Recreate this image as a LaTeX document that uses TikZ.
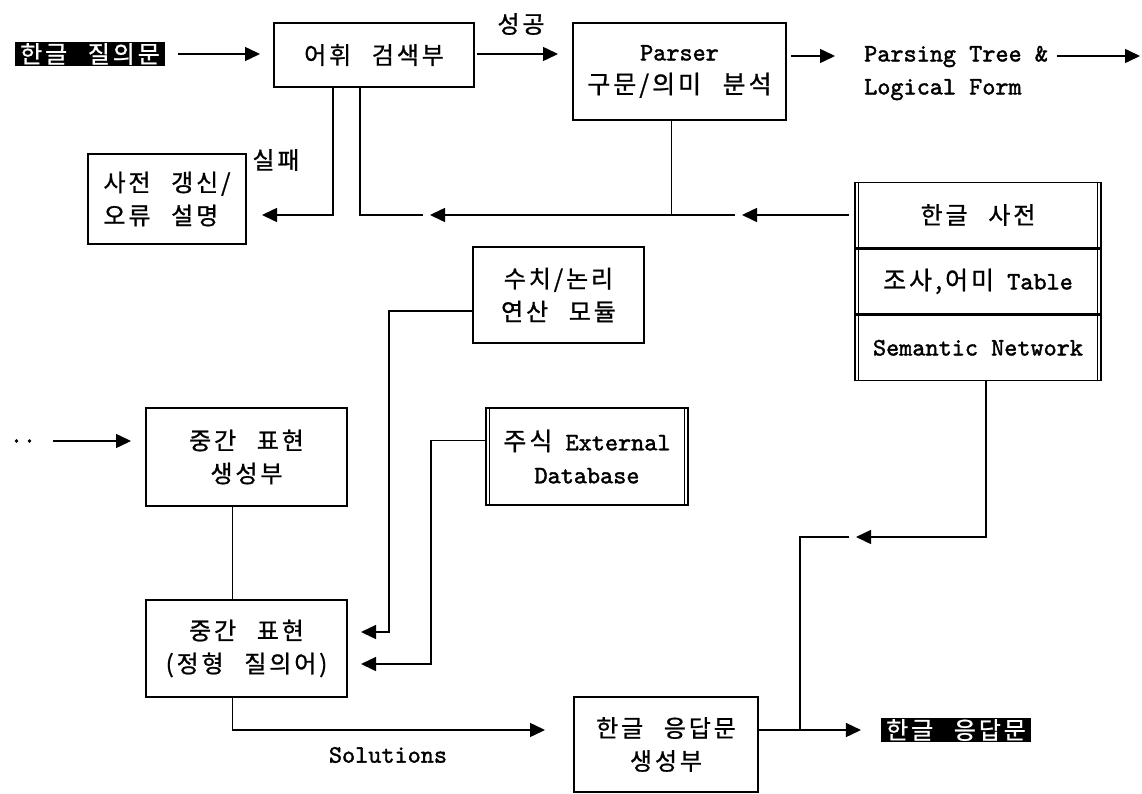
\documentclass[tikz,border=0pt]{standalone}
\usepackage{fontspec}
\setmonofont{lmmono10-regular.otf}[FakeBold=1.6]
\newfontfamily\kr[LetterSpace=12,WordSpace=2.5,FakeBold=0.9]{Noto Sans CJK KR}
\usetikzlibrary{arrows.meta}
\usetikzlibrary{calc,positioning}

\begin{document}
\begin{tikzpicture}[x=1pt,y=-1pt,
        font=\ttfamily\fontsize{25}{33}\selectfont,
        hangul/.style={font=\kr\fontsize{24}{33}\selectfont},
        box/.style={draw,line width=2pt,align=center,inner sep=0pt},
        dpart/.style={draw,line width=1.4pt,minimum width=246pt,minimum height=65pt,inner sep=0pt},
        con/.style={line width=1.5pt},
        arr/.style={con,-{Triangle[length=15pt,width=14pt]}},
        inv/.style={fill=black,text=white,inner xsep=5pt,inner ysep=1pt}]
        \useasboundingbox (0,0) rectangle (1142,794);

        % top row
        \node [inv,hangul] (q) at (90,54) {한글 질의문};
        \node [box,hangul,minimum width=200pt,minimum height=64pt] (lex) at (374,55) {어휘 검색부};
        \node [box,minimum width=213pt,minimum height=97pt] (parser) at (679.5,71.5) {Parser\\{\kr 구문/의미 분석}};
        \node [anchor=west,align=left,inner sep=0pt] (ptree) at (864,73) {Parsing Tree \&\\Logical Form};
        \coordinate (pend) at (1140,56);
        \node [hangul] (ok) at (521,24) {성공};

        \draw [arr,shorten <=13pt,shorten >=13pt] (q.east) -- (q -| lex.west);
        \draw [arr,shorten <=2pt,shorten >=14pt] (lex.east |- q) -- (parser.west |- q);
        \draw [arr,shorten <=4pt,shorten >=29pt] (parser.east |- pend) -- (ptree.west |- pend);
        \draw [arr,shorten <=9pt] (ptree.east |- pend) -- (pend);

        % failure branch and dictionary
        \node [box,hangul,align=left,minimum width=158pt,minimum height=90pt] (fail) at (167,199) {사전 갱신/\\오류 설명};
        \node [hangul] (ng) at (276,160) {실패};
        \draw [arr,shorten >=15pt] ([xshift=-41pt]lex.south) |- ([yshift=-16pt]fail.east);

        \node [dpart,hangul] (dict1) at (978,215) {한글 사전};
        \node [dpart,below=0pt of dict1] (dict2) {{\kr 조사,어미} Table};
        \node [dpart,below=0pt of dict2] (dict3) {Semantic Network};
        \draw [line width=1.4pt] ([xshift=4pt]dict1.north west) -- ([xshift=4pt]dict3.south west);
        \draw [line width=1.4pt] ([xshift=-4pt]dict1.north east) -- ([xshift=-4pt]dict3.south east);

        \coordinate (tipa) at (742,215);
        \coordinate (tipb) at (430,215);
        \draw [arr,shorten <=5pt] (dict1.west) -- (tipa);
        \draw [arr] ([xshift=-7pt]tipa) -- (tipb);
        \draw [con] ([xshift=-7pt]tipb) -| ([xshift=-14pt]lex.south);
        \draw [con] ([xshift=-8pt]parser.south) -- ([xshift=-8pt]parser.south |- tipa);

        % middle modules
        \node [box,hangul,minimum width=171pt,minimum height=96pt] (calc) at (558.5,295) {수치/논리\\연산 모듈};
        \node [box,line width=1.4pt,minimum width=202pt,minimum height=97pt] (db) at (587,456.5) {{\kr 주식} External\\Database};
        \draw [line width=1.4pt] ([xshift=4pt]db.north west) -- ([xshift=4pt]db.south west);
        \draw [line width=1.4pt] ([xshift=-4pt]db.north east) -- ([xshift=-4pt]db.south east);

        \node [box,hangul,minimum width=201pt,minimum height=98pt] (mid1) at (246.5,457) {중간 표현\\생성부};
        \node [box,hangul,minimum width=201pt,minimum height=97pt] (mid2) at (246.5,648.5) {중간 표현\\(정형 질의어)};
        \node [inner sep=0pt] (dots) at (23,441) {..};
        \draw [arr,shorten <=17pt,shorten >=14pt] (dots.east) -- (dots -| mid1.west);
        \draw [con] ([xshift=-14pt]mid1.south) -- ([xshift=-14pt]mid2.north);

        \coordinate (c1) at (389,632);
        \coordinate (c2) at (431,664);
        \draw [arr,shorten >=13pt] ([yshift=-16pt]calc.west) -| (c1) -- (c1 -| mid2.east);
        \draw [arr,shorten >=13pt] ([yshift=16pt]db.west) -| (c2) -- (c2 -| mid2.east);

        % answer generation
        \node [box,hangul,minimum width=184pt,minimum height=95pt] (ans) at (666,744.5) {한글 응답문\\생성부};
        \node [inv,hangul] (out) at (956,730) {한글 응답문};
        \node (sol) at (388,755) {Solutions};
        \draw [arr,shorten >=28pt] ([xshift=-14pt]mid2.south) |- ([yshift=14.5pt]ans.west);
        \draw [arr,shorten >=20pt] ([yshift=14.5pt]ans.east) -- (out.west);

        \coordinate (j) at (800,730);
        \coordinate (tipc) at (856,537);
        \draw [arr] ([xshift=8pt]dict3.south) |- (tipc);
        \draw [con] ([xshift=-7pt]tipc) -| (j);
\end{tikzpicture}
\end{document}
